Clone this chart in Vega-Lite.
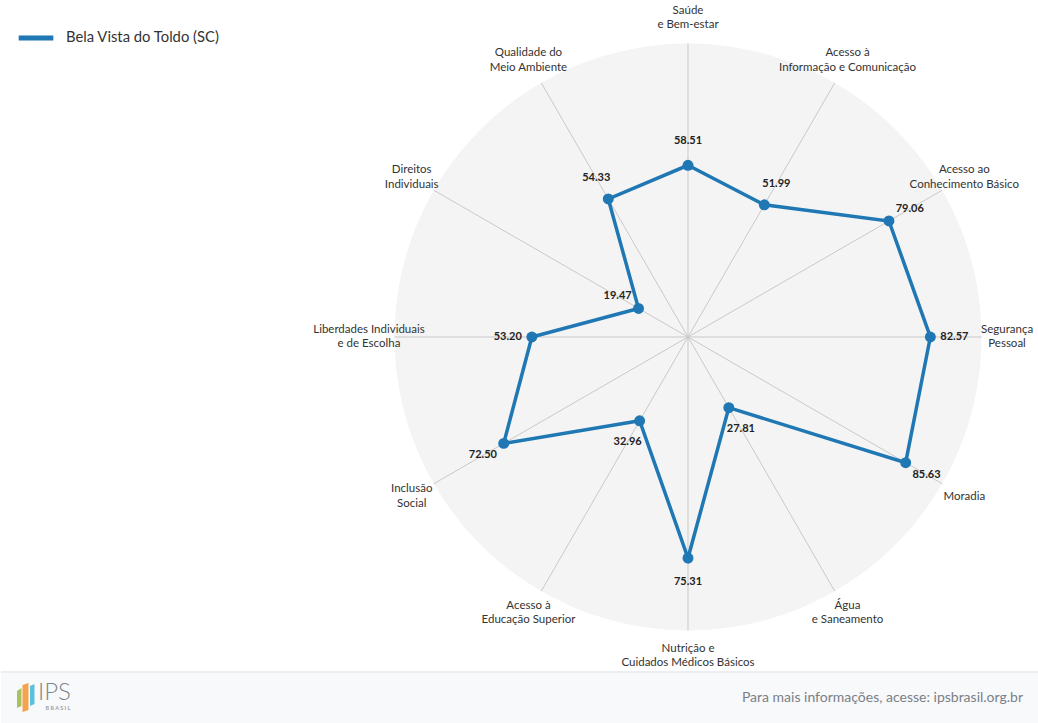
{
  "$schema": "https://vega.github.io/schema/vega-lite/v6.json",
  "background": "white",
  "padding": 0,
  "spacing": 0,
  "bounds": "flush",
  "config": {"view": {"stroke": null}, "font": "Lato"},
  "vconcat": [
    {
      "width": 1038,
      "height": 672,
      "data": {
        "values": [
          {"dimensao": "Saúde\ne Bem-estar", "valor": 58.51, "municipio": "Bela Vista do Toldo (SC)"},
          {"dimensao": "Acesso à\nInformação e Comunicação", "valor": 51.99, "municipio": "Bela Vista do Toldo (SC)"},
          {"dimensao": "Acesso ao\nConhecimento Básico", "valor": 79.06, "municipio": "Bela Vista do Toldo (SC)"},
          {"dimensao": "Segurança\nPessoal", "valor": 82.57, "municipio": "Bela Vista do Toldo (SC)"},
          {"dimensao": "Moradia", "valor": 85.63, "municipio": "Bela Vista do Toldo (SC)"},
          {"dimensao": "Água\ne Saneamento", "valor": 27.81, "municipio": "Bela Vista do Toldo (SC)"},
          {"dimensao": "Nutrição e\nCuidados Médicos Básicos", "valor": 75.31, "municipio": "Bela Vista do Toldo (SC)"},
          {"dimensao": "Acesso à\nEducação Superior", "valor": 32.96, "municipio": "Bela Vista do Toldo (SC)"},
          {"dimensao": "Inclusão\nSocial", "valor": 72.50, "municipio": "Bela Vista do Toldo (SC)"},
          {"dimensao": "Liberdades Individuais\ne de Escolha", "valor": 53.20, "municipio": "Bela Vista do Toldo (SC)"},
          {"dimensao": "Direitos\nIndividuais", "valor": 19.47, "municipio": "Bela Vista do Toldo (SC)"},
          {"dimensao": "Qualidade do\nMeio Ambiente", "valor": 54.33, "municipio": "Bela Vista do Toldo (SC)"}
        ]
      },
      "transform": [
        {"window": [{"op": "row_number", "as": "idx"}]},
        {"calculate": "(datum.idx - 1) * PI / 6", "as": "ang"},
        {"calculate": "0", "as": "centro"},
        {"calculate": "length(split(datum.dimensao, '\\n'))", "as": "linhas"},
        {"calculate": "datum.valor * sin(datum.ang)", "as": "px"},
        {"calculate": "datum.valor * cos(datum.ang)", "as": "py"},
        {"calculate": "100 * sin(datum.ang)", "as": "ex"},
        {"calculate": "100 * cos(datum.ang)", "as": "ey"},
        {"calculate": "(datum.valor + 8.2) * sin(datum.ang)", "as": "lx"},
        {"calculate": "(datum.valor + 8.2) * cos(datum.ang)", "as": "ly"},
        {"calculate": "108.7 * sin(datum.ang)", "as": "tx"},
        {"calculate": "108.7 * cos(datum.ang) + (datum.linhas - 1) * 2.5", "as": "ty"}
      ],
      "layer": [
        {
          "transform": [{"filter": "datum.idx == 1"}],
          "mark": {"type": "point", "filled": true, "shape": "circle", "color": "#f4f4f4", "opacity": 1, "size": 344569},
          "encoding": {
            "x": {"field": "centro", "type": "quantitative", "scale": {"domain": [-234.07, 119.59], "nice": false, "zero": false}, "axis": null},
            "y": {"field": "centro", "type": "quantitative", "scale": {"domain": [-114.14, 114.82], "nice": false, "zero": false}, "axis": null}
          }
        },
        {
          "mark": {"type": "rule", "color": "#c9c9c9", "strokeWidth": 1},
          "encoding": {
            "x": {"field": "centro", "type": "quantitative", "scale": {"domain": [-234.07, 119.59], "nice": false, "zero": false}, "axis": null},
            "y": {"field": "centro", "type": "quantitative", "scale": {"domain": [-114.14, 114.82], "nice": false, "zero": false}, "axis": null},
            "x2": {"field": "ex"},
            "y2": {"field": "ey"}
          }
        },
        {
          "mark": {"type": "line", "interpolate": "linear-closed", "strokeWidth": 3.5},
          "encoding": {
            "x": {"field": "px", "type": "quantitative", "scale": {"domain": [-234.07, 119.59], "nice": false, "zero": false}, "axis": null},
            "y": {"field": "py", "type": "quantitative", "scale": {"domain": [-114.14, 114.82], "nice": false, "zero": false}, "axis": null},
            "order": {"field": "idx", "type": "quantitative"},
            "color": {
              "field": "municipio",
              "type": "nominal",
              "scale": {"range": ["#1f77b4"]},
              "legend": {
                "title": null,
                "orient": "none",
                "legendX": 15,
                "legendY": 18,
                "symbolType": "stroke",
                "symbolStrokeWidth": 5,
                "symbolSize": 1200,
                "labelFontSize": 14.8,
                "labelColor": "#333333",
                "labelOffset": 10
              }
            }
          }
        },
        {
          "mark": {"type": "point", "filled": true, "opacity": 1, "size": 120, "color": "#1f77b4"},
          "encoding": {
            "x": {"field": "px", "type": "quantitative", "scale": {"domain": [-234.07, 119.59], "nice": false, "zero": false}, "axis": null},
            "y": {"field": "py", "type": "quantitative", "scale": {"domain": [-114.14, 114.82], "nice": false, "zero": false}, "axis": null}
          }
        },
        {
          "mark": {"type": "text", "fontSize": 11, "fontWeight": "bold", "color": "#222222"},
          "encoding": {
            "x": {"field": "lx", "type": "quantitative", "scale": {"domain": [-234.07, 119.59], "nice": false, "zero": false}, "axis": null},
            "y": {"field": "ly", "type": "quantitative", "scale": {"domain": [-114.14, 114.82], "nice": false, "zero": false}, "axis": null},
            "text": {"field": "valor", "type": "quantitative", "format": ".2f"}
          }
        },
        {
          "mark": {"type": "text", "fontSize": 11.5, "color": "#333333", "lineBreak": "\n", "lineHeight": 14.5},
          "encoding": {
            "x": {"field": "tx", "type": "quantitative", "scale": {"domain": [-234.07, 119.59], "nice": false, "zero": false}, "axis": null},
            "y": {"field": "ty", "type": "quantitative", "scale": {"domain": [-114.14, 114.82], "nice": false, "zero": false}, "axis": null},
            "text": {"field": "dimensao", "type": "nominal"}
          }
        }
      ]
    },
    {
      "width": 1038,
      "height": 51,
      "view": {"fill": "#f8f9fb", "stroke": null},
      "data": {"values": [{"texto": "Para mais informações, acesse: ipsbrasil.org.br", "logo": "IPS", "sub": "B R A S I L"}]},
      "layer": [
        {
          "mark": {"type": "rule", "color": "#eceef1", "strokeWidth": 2},
          "encoding": {"x": {"value": 0}, "x2": {"value": "width"}, "y": {"value": 0}}
        },
        {
          "mark": {"type": "text", "align": "right", "dx": -16, "fontSize": 14, "color": "#7a7f87"},
          "encoding": {"x": {"value": "width"}, "text": {"field": "texto", "type": "nominal"}}
        },
        {
          "mark": {"type": "point", "filled": true, "opacity": 1, "color": "#a9c25d", "size": 900, "shape": "M-0.533,-0.433L-0.233,-0.633L-0.233,0.567L-0.533,0.7Z"},
          "encoding": {
            "x": {"datum": 24, "type": "quantitative", "scale": {"domain": [0, 1038], "nice": false, "zero": false}, "axis": null},
            "y": {"datum": 25.5, "type": "quantitative", "scale": {"domain": [0, 51], "nice": false, "zero": false, "reverse": true}, "axis": null}
          }
        },
        {
          "mark": {"type": "point", "filled": true, "opacity": 1, "color": "#f4a24b", "size": 900, "shape": "M-0.167,-0.833L0.233,-0.967L0.233,0.833L-0.167,0.967Z"},
          "encoding": {
            "x": {"datum": 24, "type": "quantitative", "scale": {"domain": [0, 1038], "nice": false, "zero": false}, "axis": null},
            "y": {"datum": 25.5, "type": "quantitative", "scale": {"domain": [0, 51], "nice": false, "zero": false, "reverse": true}, "axis": null}
          }
        },
        {
          "mark": {"type": "point", "filled": true, "opacity": 1, "color": "#5bc0de", "size": 900, "shape": "M0.333,-0.767L0.633,-0.9L0.633,0.433L0.333,0.567Z"},
          "encoding": {
            "x": {"datum": 24, "type": "quantitative", "scale": {"domain": [0, 1038], "nice": false, "zero": false}, "axis": null},
            "y": {"datum": 25.5, "type": "quantitative", "scale": {"domain": [0, 51], "nice": false, "zero": false, "reverse": true}, "axis": null}
          }
        },
        {
          "mark": {"type": "text", "align": "left", "baseline": "alphabetic", "fontSize": 24, "fontWeight": 300, "color": "#80858b"},
          "encoding": {
            "x": {"datum": 37, "type": "quantitative", "scale": {"domain": [0, 1038], "nice": false, "zero": false}, "axis": null},
            "y": {"datum": 28, "type": "quantitative", "scale": {"domain": [0, 51], "nice": false, "zero": false, "reverse": true}, "axis": null},
            "text": {"field": "logo", "type": "nominal"}
          }
        },
        {
          "mark": {"type": "text", "align": "center", "baseline": "top", "fontSize": 5.5, "fontWeight": "bold", "color": "#9a9fa5"},
          "encoding": {
            "x": {"datum": 57, "type": "quantitative", "scale": {"domain": [0, 1038], "nice": false, "zero": false}, "axis": null},
            "y": {"datum": 33.5, "type": "quantitative", "scale": {"domain": [0, 51], "nice": false, "zero": false, "reverse": true}, "axis": null},
            "text": {"field": "sub", "type": "nominal"}
          }
        }
      ]
    }
  ]
}
